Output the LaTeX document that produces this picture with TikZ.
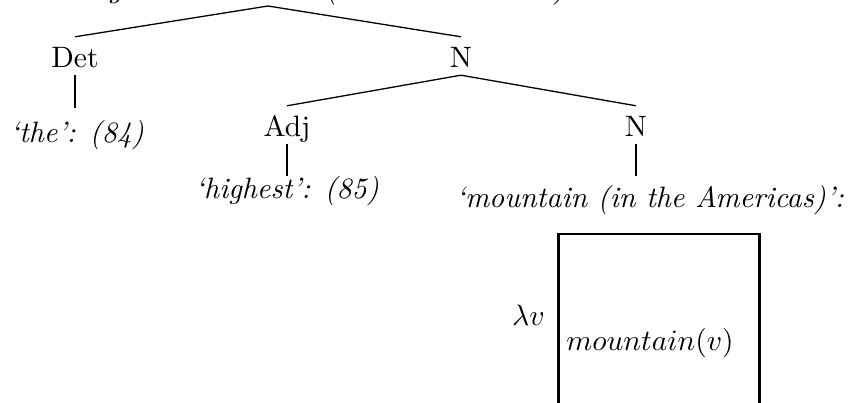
\documentclass[tikz,border=0pt]{standalone}
\usepackage{graphicx}
\newcommand{\bigtxt}[1]{\scalebox{2.95}{#1}}
\newcommand{\bigit}[1]{\scalebox{2.95}{\itshape #1}}
\tikzset{
  cat/.style={inner sep=0pt, anchor=base, text height=31pt, text depth=7pt},
  leaf/.style={inner sep=0pt, anchor=base},
  branch/.style={line width=1.3pt},
  stem/.style={line width=2.5pt},
  drsbox/.style={draw, line width=2.5pt, inner sep=0pt, anchor=north west}
}
\begin{document}
\begin{tikzpicture}[x=1pt,y=-1pt]
\useasboundingbox (0,0) rectangle (848,403);
\clip (0,0) rectangle (848,403);
% top label (cut off by the frame)
\node[leaf, anchor=base west] (toplabel) at (21.5,-2.5) {\scalebox{3.1}{\itshape ‘the highest mountain (in the Americas)’:}};
\coordinate (root) at (268,6);
% level 1
\node[cat] (det) at (75,68) {\bigtxt{Det}};
\node[cat] (n1) at (461,68) {\bigtxt{N}};
% level 2
\node[cat] (adj) at (287,137) {\bigtxt{Adj}};
\node[cat] (n2) at (636,137) {\bigtxt{N}};
% leaves
\node[leaf, text height=35pt] (the) at (77,143) {\bigit{‘the’: (84)}};
\node[leaf, text height=23pt] (highest) at (287,199) {\bigit{‘highest’: (85)}};
\node[leaf, text height=32pt] (mountain) at (650,208) {\bigit{‘mountain (in the Americas)’:}};
% DRS
\node[drsbox, minimum width=201pt, minimum height=180pt] (box) at (557,233) {};
\node[inner sep=0pt, anchor=base east] (lam) at (545,325) {\bigtxt{$\lambda v$}};
\node[inner sep=0pt, anchor=base] (cond) at (650,350) {\bigtxt{$mountain(v)$}};
% connectors
\draw[branch] (det.north) -- (root) -- (n1.north);
\draw[branch] (adj.north) -- (n1.south) -- (n2.north);
\draw[stem] (det.south) -- (det.south |- the.north);
\draw[stem] (adj.south) -- (adj.south |- highest.north);
\draw[stem] (n2.south) -- (n2.south |- mountain.north);
\end{tikzpicture}
\end{document}
